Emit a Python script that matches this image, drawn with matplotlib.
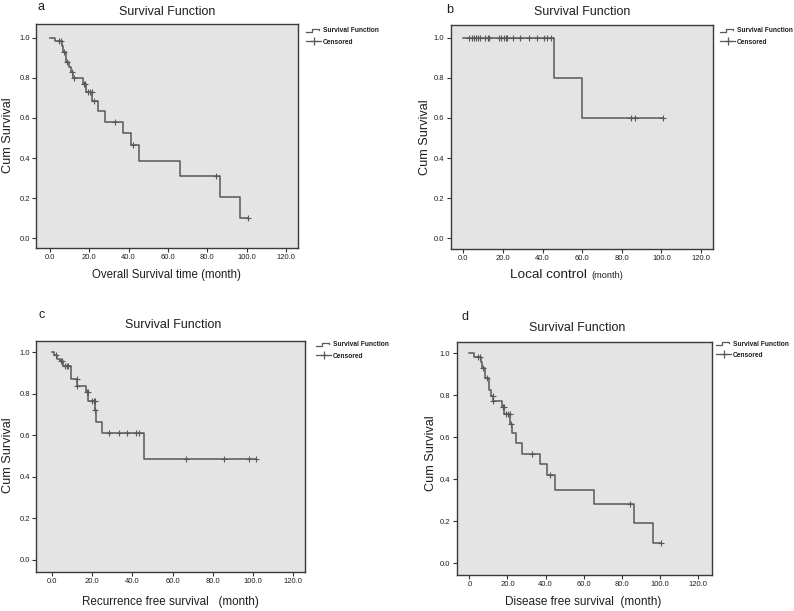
import numpy as np
import matplotlib
matplotlib.use("Agg")
import matplotlib.pyplot as plt
from matplotlib.lines import Line2D
from matplotlib.legend_handler import HandlerBase

plt.rcParams['font.family'] = ['Liberation Sans', 'DejaVu Sans']

# ---------------- data ----------------
# panel a: Overall survival
times_a = [0, 2.5, 5.9, 6.5, 8.0, 9.7, 10.5, 11.9, 16.9, 18.1, 21.5, 24.6, 28.0, 37.0, 41.0, 45.2, 65.9, 86.4, 96.6]
surv_a = [1.0, 0.983, 0.958, 0.93, 0.88, 0.855, 0.827, 0.797, 0.769, 0.731, 0.686, 0.636, 0.58, 0.523, 0.465, 0.387, 0.31, 0.207, 0.103]
end_a = 100.8
cens_a = [4.6, 5.6, 7.1, 8.6, 11.0, 12.4, 17.3, 17.8, 19.2, 20.3, 21.2, 22.4, 33.0, 42.4, 84.4, 100.8]

# panel b: Local control
times_b = [0, 45.8, 60.1]
surv_b = [1.0, 0.8, 0.6]
end_b = 101.0
cens_b = [2.9, 4.6, 5.4, 6.3, 7.3, 8.2, 10.8, 12.2, 13.1, 18.0, 18.9, 20.4, 21.3, 22.1,
          24.8, 28.5, 33.2, 37.0, 40.9, 42.4, 44.0, 84.5, 86.7, 101.0]

# panel c: Recurrence free survival
times_c = [0, 1.3, 2.6, 4.1, 5.8, 9.6, 12.7, 17.1, 18.2, 21.5, 22.0, 24.8, 46.0]
surv_c = [1.0, 0.987, 0.97, 0.957, 0.935, 0.872, 0.84, 0.807, 0.767, 0.722, 0.666, 0.61, 0.486]
end_c = 101.5
cens_c = [2.1, 4.6, 5.3, 6.6, 7.5, 8.2, 12.4, 12.8, 17.4, 17.9, 19.9, 20.8, 21.3, 21.7,
          28.5, 33.4, 37.6, 41.7, 43.5, 66.8, 85.6, 97.8, 101.5]

# panel d: Disease free survival
times_d = [0, 2.4, 5.9, 6.8, 8.2, 10.3, 11.2, 12.3, 17.3, 18.2, 21.3, 22.5, 24.4, 27.8, 37.0, 40.9, 44.9, 65.5, 86.3, 96.4]
surv_d = [1.0, 0.981, 0.956, 0.929, 0.881, 0.825, 0.797, 0.773, 0.743, 0.71, 0.665, 0.619, 0.571, 0.521, 0.471, 0.421, 0.349, 0.283, 0.19, 0.095]
end_d = 100.6
cens_d = [4.4, 5.6, 7.3, 9.4, 12.2, 12.6, 17.5, 18.0, 19.2, 20.4, 21.1, 21.7, 32.7, 42.3, 84.2, 100.6]

x_ticks = [0, 20, 40, 60, 80, 100, 120]
x_ticklabels = ["0.0", "20.0", "40.0", "60.0", "80.0", "100.0", "120.0"]
x_ticklabels_d = [".0", "20.0", "40.0", "60.0", "80.0", "100.0", "120.0"]
y_ticks = [0.0, 0.2, 0.4, 0.6, 0.8, 1.0]
y_ticklabels = ["0.0", "0.2", "0.4", "0.6", "0.8", "1.0"]

LINE = '#585858'
BG = '#e4e4e4'
TXT = '#1e1e1e'

W, H = 794, 611
fig = plt.figure(figsize=(W / 100, H / 100), dpi=100)


def fx(px):
    return px / W


def fy(py):
    return 1 - py / H


class StepHandler(HandlerBase):
    def create_artists(self, legend, orig_handle, xdescent, ydescent, width, height, fontsize, trans):
        xs = np.array([0.0, 0.4, 0.4, 0.85, 0.85]) * width - xdescent
        ys = np.array([0.1, 0.1, 0.85, 0.85, 0.45]) * height - ydescent
        ln = Line2D(xs, ys, color=LINE, lw=0.9, transform=trans)
        return [ln]


def panel(box, xlim, ylim, times, surv, end, cens, xtl, letter, letter_xy, title_xy,
          ylabel_xy, xlabels, legend_xy):
    l, r, t, b = box
    ax = fig.add_axes([fx(l), fy(b), fx(r - l), (b - t) / H])
    ax.set_facecolor(BG)
    xs = list(times) + [end]
    ys = list(surv) + [surv[-1]]
    ax.step(xs, ys, where='post', color=LINE, lw=1.1, zorder=3)
    idx = np.searchsorted(np.array(times), np.array(cens), side='right') - 1
    cy = np.array(surv)[idx]
    ax.plot(cens, cy, ls='none', marker='+', ms=5, mew=0.8, color=LINE, zorder=4)
    ax.set_xlim(*xlim)
    ax.set_ylim(*ylim)
    ax.set_xticks(x_ticks)
    ax.set_xticklabels(xtl)
    ax.set_yticks(y_ticks)
    ax.set_yticklabels(y_ticklabels)
    ax.tick_params(direction='out', length=3, width=0.8, colors='#333333',
                   labelsize=5.5, labelcolor=TXT, pad=1.5)
    for s in ax.spines.values():
        s.set_color('#3a3a3a')
        s.set_linewidth(1.0)
    fig.text(fx(letter_xy[0]), fy(letter_xy[1]), letter, fontsize=9, color=TXT,
             ha='center', va='center')
    fig.text(fx(title_xy[0]), fy(title_xy[1]), "Survival Function", fontsize=9.0,
             color=TXT, ha='center', va='center')
    fig.text(fx(ylabel_xy[0]), fy(ylabel_xy[1]), "Cum Survival", fontsize=9.1,
             color=TXT, ha='center', va='center', rotation=90)
    for (txt, x0, y0, fs) in xlabels:
        fig.text(fx(x0), fy(y0), txt, fontsize=fs, color=TXT, ha='left', va='center')
    h1 = Line2D([], [], color=LINE)
    h2 = Line2D([], [], color=LINE, lw=0.9, marker='+', ms=6, mew=0.9)
    leg = ax.legend([h1, h2], ["Survival Function", "Censored"],
                    handler_map={h1: StepHandler()},
                    loc='upper left', bbox_to_anchor=(fx(legend_xy[0]), fy(legend_xy[1])),
                    bbox_transform=fig.transFigure, frameon=False, borderpad=0,
                    borderaxespad=0, handlelength=2.3, handletextpad=0.25,
                    labelspacing=0.65, prop={'size': 4.75, 'weight': 'bold'})
    for tx in leg.get_texts():
        tx.set_color(TXT)
    return ax


panel((36, 298, 24, 248), (-7.1, 126.1), (-0.048, 1.068), times_a, surv_a, end_a, cens_a,
      x_ticklabels, "a", (41.5, 6.5), (167, 12), (8.5, 135),
      [("Overall Survival time (month)", 91.5, 275, 8.3)], (306, 27.5))

panel((450.7, 713, 25, 249), (-6.4, 126.0), (-0.053, 1.063), times_b, surv_b, end_b, cens_b,
      x_ticklabels, "b", (450, 10), (582, 12), (425, 137),
      [("Local control", 510, 275, 9.7), ("(month)", 591.5, 275, 6.6)], (720, 27.5))

panel((36, 305, 340.7, 572), (-7.8, 125.8), (-0.058, 1.056), times_c, surv_c, end_c, cens_c,
      x_ticklabels, "c", (41.5, 315), (173, 325), (8.5, 455),
      [("Recurrence free survival   (month)", 81.5, 601.5, 8.4)], (316, 341.5))

panel((456.7, 711.7, 341.7, 575), (-6.6, 127.0), (-0.056, 1.055), times_d, surv_d, end_d, cens_d,
      x_ticklabels_d, "d", (465, 317), (577, 328), (431.5, 453),
      [("Disease free survival  (month)", 505, 601.5, 8.5)], (716, 340.5))

fig.savefig("out.png", dpi=100, facecolor='white')
